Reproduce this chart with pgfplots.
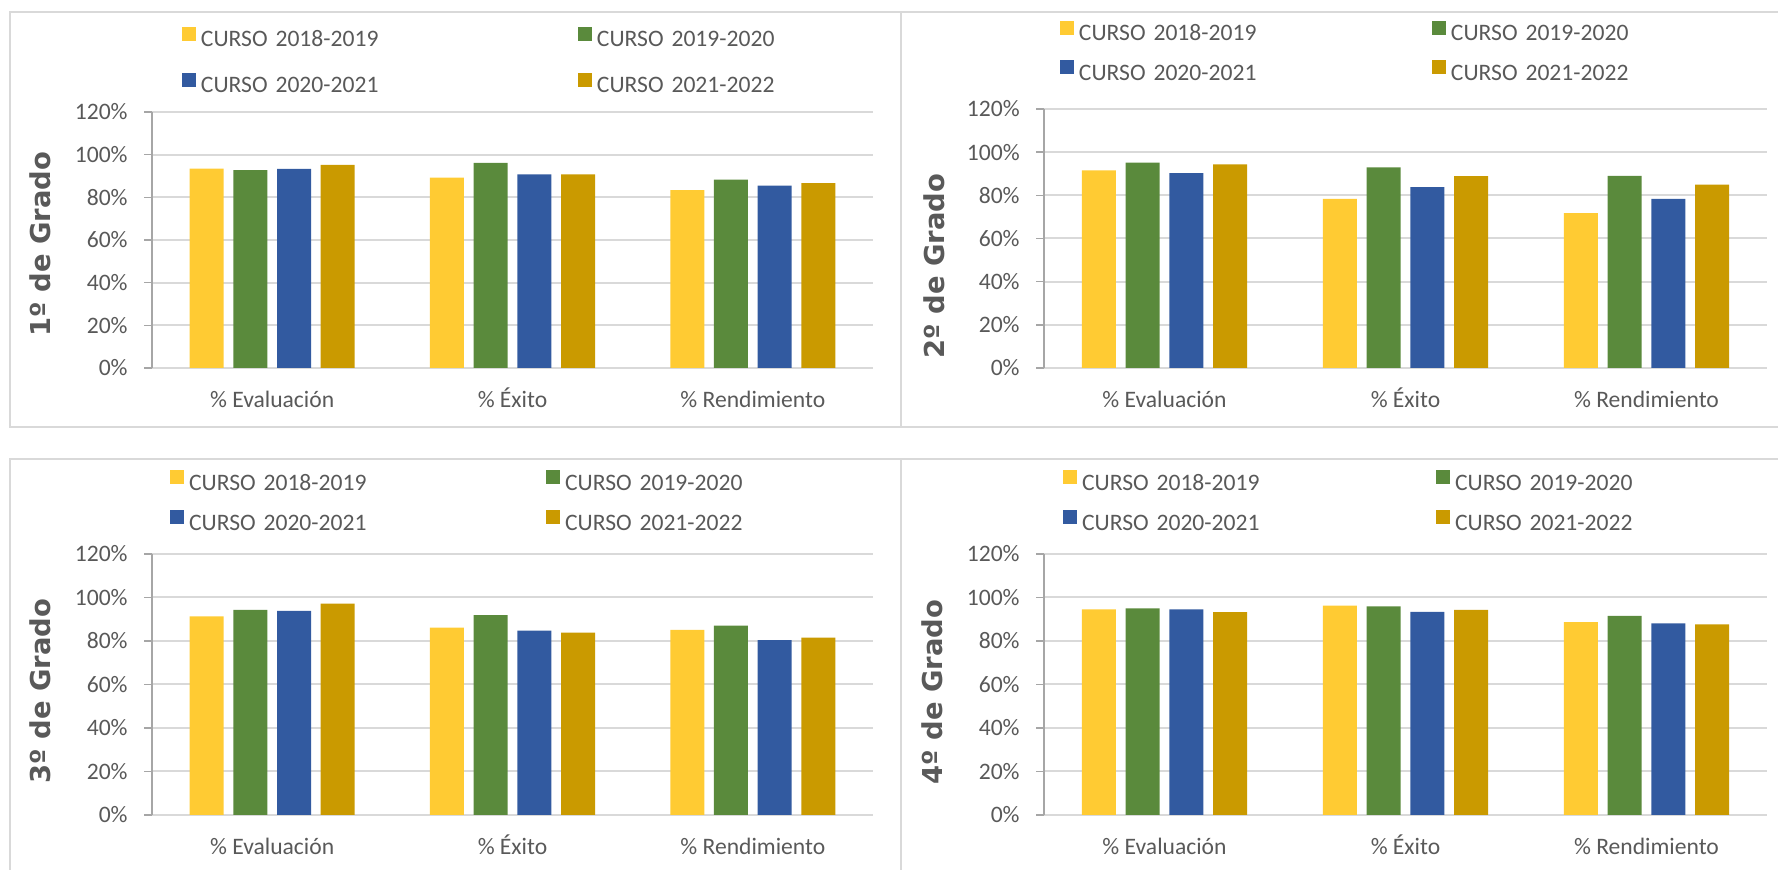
\documentclass[border=0pt]{standalone}
\usepackage{pgfplots}
\pgfplotsset{compat=1.18}
\usepackage{fontspec}
\setmainfont{Carlito}
\newfontfamily\labfont{DejaVu Sans}
\definecolor{cYel}{HTML}{FFCB33}
\definecolor{cGrn}{HTML}{5A8A3C}
\definecolor{cBlu}{HTML}{325AA0}
\definecolor{cGld}{HTML}{CA9A00}
\definecolor{txt}{HTML}{595959}
\definecolor{gridc}{HTML}{D9D9D9}
\definecolor{axg}{HTML}{A6A6A6}
\newcommand{\lbl}{\fontsize{11.8pt}{14pt}\selectfont}
\pgfplotsset{
  sqlegend/.style={legend image code/.code={\fill[##1] (0pt,0pt) rectangle (7pt,7pt); \path (9.5pt,0pt);}},
  panel/.style={
    scale only axis,
    anchor=south west,
    ybar=4.85pt, bar width=17pt,
    every axis plot/.append style={sqlegend},
    xmin=-0.5, xmax=2.5,
    ymin=0, ymax=120,
    xtick={0,1,2},
    xticklabels={\% Evaluación, \% Éxito, \% Rendimiento},
    ytick={0,20,...,120},
    yticklabels={0\%,20\%,40\%,60\%,80\%,100\%,120\%},
    axis x line*=bottom, axis y line*=left,
    x axis line style={draw=gridc, line width=1pt, -},
    y axis line style={draw=axg, line width=0.75pt, -},
    ymajorgrids, grid style={draw=gridc, line width=1pt},
    xtick style={draw=none},
    ytick style={draw=axg, line width=0.75pt},
    tick align=outside, major tick length=4pt,
    ticklabel style={font=\lbl, text=txt},
    xticklabel style={anchor=north, inner sep=0pt, text height=8pt, text depth=2pt, yshift=-7.5pt},
    yticklabel style={anchor=east, inner sep=0pt, xshift=-8pt},
    ylabel style={font=\labfont\bfseries\fontsize{13.7pt}{16pt}\selectfont, text=txt, anchor=center},
    legend columns=2,
    legend cell align=left,
    legend style={draw=none, fill=none, inner sep=0pt, outer sep=0pt, anchor=north west, font=\lbl, text=txt,
       nodes={inner sep=0pt, text height=8.5pt, text depth=2.5pt, align=left}},
  },
}
\begin{document}
\begin{tikzpicture}
\useasboundingbox (0,0) rectangle (889pt,435pt);
% panel frames
\draw[gridc, line width=1pt] (5pt,221.5pt) rectangle (450.5pt,429pt);
\draw[gridc, line width=1pt] (450.5pt,221.5pt) rectangle (900pt,429pt);
\draw[gridc, line width=1pt] (5pt,-5pt) rectangle (450.5pt,205.5pt);
\draw[gridc, line width=1pt] (450.5pt,-5pt) rectangle (900pt,205.5pt);

% ---- 1º de Grado
\begin{axis}[panel, at={(76pt,251pt)}, width=360.5pt, height=128pt,
  ylabel={1º de Grado}, ylabel style={at={(axis description cs:-0.1546,0.484)}},
  legend style={at={(0.0416,1.332)}, row sep=10.5pt, nodes={text width=188.5pt}}]
\addplot[fill=cYel, draw=none] coordinates {(0,93.4) (1,89.2) (2,83.4)};
\addplot[fill=cGrn, draw=none] coordinates {(0,92.7) (1,96.1) (2,88.3)};
\addplot[fill=cBlu, draw=none] coordinates {(0,93.3) (1,90.8) (2,85.5)};
\addplot[fill=cGld, draw=none] coordinates {(0,95.2) (1,90.8) (2,86.7)};
\legend{CURSO 2018-2019, CURSO 2019-2020, CURSO 2020-2021, CURSO 2021-2022}
\end{axis}

% ---- 2º de Grado
\begin{axis}[panel, at={(522pt,251pt)}, width=361.5pt, height=129.5pt,
  ylabel={2º de Grado}, ylabel style={at={(axis description cs:-0.152,0.394)}},
  legend style={at={(0.0221,1.341)}, row sep=7.3pt, nodes={text width=176.5pt}}]
\addplot[fill=cYel, draw=none] coordinates {(0,91.5) (1,78.4) (2,71.7)};
\addplot[fill=cGrn, draw=none] coordinates {(0,95.2) (1,92.9) (2,89.0)};
\addplot[fill=cBlu, draw=none] coordinates {(0,90.3) (1,83.8) (2,78.4)};
\addplot[fill=cGld, draw=none] coordinates {(0,94.3) (1,88.9) (2,85.0)};
\legend{CURSO 2018-2019, CURSO 2019-2020, CURSO 2020-2021, CURSO 2021-2022}
\end{axis}

% ---- 3º de Grado
\begin{axis}[panel, at={(76pt,27.5pt)}, width=360.5pt, height=130.5pt,
  ylabel={3º de Grado}, ylabel style={at={(axis description cs:-0.1546,0.475)}},
  legend style={at={(0.025,1.3215)}, row sep=7.5pt, nodes={text width=178.5pt}}]
\addplot[fill=cYel, draw=none] coordinates {(0,91.3) (1,86.2) (2,85.1)};
\addplot[fill=cGrn, draw=none] coordinates {(0,94.3) (1,91.9) (2,87.1)};
\addplot[fill=cBlu, draw=none] coordinates {(0,93.9) (1,84.8) (2,80.4)};
\addplot[fill=cGld, draw=none] coordinates {(0,97.2) (1,83.8) (2,81.6)};
\legend{CURSO 2018-2019, CURSO 2019-2020, CURSO 2020-2021, CURSO 2021-2022}
\end{axis}

% ---- 4º de Grado
\begin{axis}[panel, at={(522pt,27.5pt)}, width=361.5pt, height=130.5pt,
  ylabel={4º de Grado}, ylabel style={at={(axis description cs:-0.155,0.471)}},
  legend style={at={(0.0263,1.3215)}, row sep=7.5pt, nodes={text width=177pt}}]
\addplot[fill=cYel, draw=none] coordinates {(0,94.5) (1,96.3) (2,88.7)};
\addplot[fill=cGrn, draw=none] coordinates {(0,95.0) (1,95.9) (2,91.6)};
\addplot[fill=cBlu, draw=none] coordinates {(0,94.5) (1,93.4) (2,88.1)};
\addplot[fill=cGld, draw=none] coordinates {(0,93.3) (1,94.3) (2,87.6)};
\legend{CURSO 2018-2019, CURSO 2019-2020, CURSO 2020-2021, CURSO 2021-2022}
\end{axis}
\end{tikzpicture}
\end{document}
